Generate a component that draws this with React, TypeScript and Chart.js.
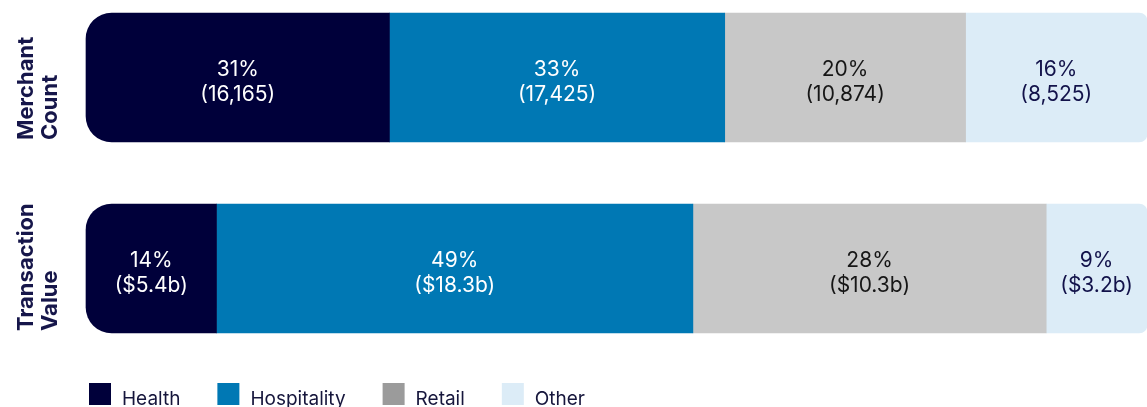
import React, { useEffect, useRef } from 'react';
import { Chart, registerables } from 'chart.js';

Chart.register(...registerables);

// ---- data ----
const categories = ['Merchant Count', 'Transaction Value'];
const categoryLines = [['Merchant', 'Count'], ['Transaction', 'Value']];
const seriesNames = ['Health', 'Hospitality', 'Retail', 'Other'];

// segment lengths (share of bar)
const health = [28.6, 12.3];
const hospitality = [31.6, 44.9];
const retail = [22.7, 33.3];
const other = [17.1, 9.5];

// in-bar labels
const healthLabels = [['31%', '(16,165)'], ['14%', '($5.4b)']];
const hospitalityLabels = [['33%', '(17,425)'], ['49%', '($18.3b)']];
const retailLabels = [['20%', '(10,874)'], ['28%', '($10.3b)']];
const otherLabels = [['16%', '(8,525)'], ['9%', '($3.2b)']];

const barColors = ['#00003a', '#0078b4', '#c8c8c8', '#dcecf7'];
const legendColors = ['#00003a', '#0078b4', '#9b9b9b', '#dcecf7'];
const labelColors = ['#ffffff', '#ffffff', '#161616', '#12124a'];

const FONT = 'Inter, "Noto Sans", Roboto, sans-serif';

export default function App() {
  const ref = useRef<HTMLCanvasElement | null>(null);

  useEffect(() => {
    document.body.style.margin = '0';
    const canvas = ref.current;
    if (!canvas) return;
    const values = [health, hospitality, retail, other];
    const labels = [healthLabels, hospitalityLabels, retailLabels, otherLabels];
    const BAR = 129;

    const barLabelPlugin = {
      id: 'barLabels',
      afterDatasetsDraw(chart: any) {
        const ctx = chart.ctx;
        ctx.save();
        ctx.font = `400 21px ${FONT}`;
        ctx.textAlign = 'center';
        ctx.textBaseline = 'middle';
        chart.data.datasets.forEach((ds: any, di: number) => {
          const meta = chart.getDatasetMeta(di);
          meta.data.forEach((el: any, i: number) => {
            const cx = (el.x + el.base) / 2;
            const cy = el.y + 5;
            const lines = labels[di][i];
            ctx.fillStyle = labelColors[di];
            ctx.fillText(lines[0], cx, cy - 12.5);
            ctx.fillText(lines[1], cx, cy + 12.5);
          });
        });
        ctx.restore();
      },
    };

    const sideLabelPlugin = {
      id: 'sideLabels',
      afterDraw(chart: any) {
        const ctx = chart.ctx;
        const yScale = chart.scales.y;
        ctx.save();
        ctx.font = `700 22px ${FONT}`;
        ctx.fillStyle = '#16164a';
        ctx.textAlign = 'left';
        ctx.textBaseline = 'alphabetic';
        categories.forEach((_c, i) => {
          const cy = yScale.getPixelForValue(i);
          const bottom = cy + BAR / 2 - 2;
          ctx.save();
          ctx.translate(0, bottom);
          ctx.rotate(-Math.PI / 2);
          categoryLines[i].forEach((t, k) => {
            ctx.fillText(t, 0, 33 + k * 24);
          });
          ctx.restore();
        });
        ctx.restore();
      },
    };

    const legendPlugin = {
      id: 'customLegend',
      afterDraw(chart: any) {
        const ctx = chart.ctx;
        ctx.save();
        ctx.font = `400 19px ${FONT}`;
        ctx.textAlign = 'left';
        ctx.textBaseline = 'alphabetic';
        let x = 89;
        seriesNames.forEach((name, i) => {
          ctx.fillStyle = legendColors[i];
          ctx.fillRect(x, 383, 22, 22);
          x += 22 + 11;
          ctx.fillStyle = '#16163c';
          ctx.fillText(name, x, 405);
          x += ctx.measureText(name).width + 37;
        });
        ctx.restore();
      },
    };

    const chart = new Chart(canvas, {
      type: 'bar',
      data: {
        labels: categories,
        datasets: seriesNames.map((name, i) => ({
          label: name,
          data: values[i],
          backgroundColor: barColors[i],
          borderWidth: 0,
          borderSkipped: false,
          barThickness: BAR,
          clip: false as any,
          borderRadius:
            i === 0
              ? { topLeft: 26, bottomLeft: 26, topRight: 0, bottomRight: 0 }
              : i === seriesNames.length - 1
              ? { topLeft: 0, bottomLeft: 0, topRight: 8, bottomRight: 8 }
              : 0,
        })),
      },
      options: {
        indexAxis: 'y',
        responsive: false,
        animation: false,
        devicePixelRatio: 1,
        layout: { padding: { left: 86, right: 0, top: 77.5, bottom: 138.5 } },
        scales: {
          x: { stacked: true, min: 0, max: 100, display: false },
          y: { stacked: true, display: false, offset: false },
        },
        plugins: {
          legend: { display: false },
          tooltip: { enabled: false },
        },
      },
      plugins: [barLabelPlugin, sideLabelPlugin, legendPlugin],
    });

    return () => chart.destroy();
  }, []);

  return (
    <div style={{ position: 'absolute', left: 0, top: 0, width: 1147, height: 407 }}>
      <canvas ref={ref} width={1147} height={407} style={{ width: 1147, height: 407 }} />
    </div>
  );
}
